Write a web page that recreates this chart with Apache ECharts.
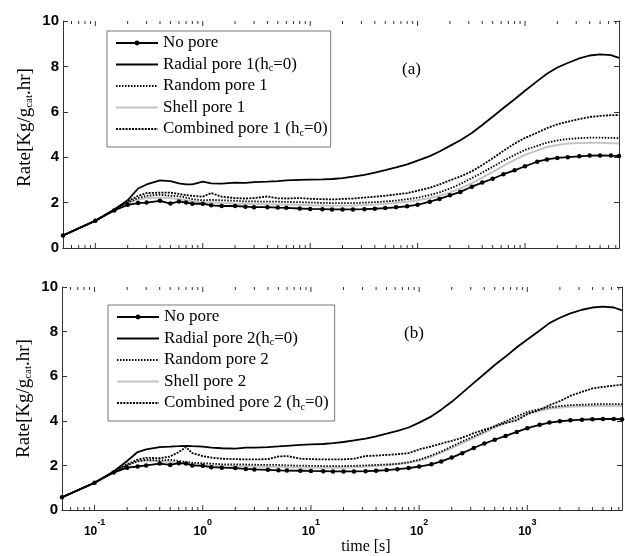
<!DOCTYPE html>
<html>
<head>
<meta charset="utf-8">
<script src="https://cdn.jsdelivr.net/npm/echarts@6/dist/echarts.min.js"></script>
<style>
  html, body { margin: 0; padding: 0; background: #fff; }
  #chart { width: 625px; height: 556px; }
</style>
</head>
<body>
<div id="chart"></div>
<script>
// Sampling times [s] shared by every curve
const times = [
  0.05, 0.1, 0.15, 0.2, 0.25, 0.3, 0.4, 0.5, 0.6, 0.7, 0.8,
  1, 1.2, 1.5, 2, 2.5, 3, 4, 5, 6, 8,
  10, 13, 16, 20, 25, 32, 40, 50, 63, 80,
  100, 130, 160, 200, 250, 320, 400, 500, 630, 800,
  1000, 1300, 1600, 2000, 2500, 3200, 4000, 5000, 6300, 7500
];

// Panel (a): pore structure type 1
const noPoreA = [
  0.55, 1.2, 1.65, 1.9, 1.98, 2.0, 2.08, 1.96, 2.05, 2.0, 1.95,
  1.95, 1.88, 1.85, 1.85, 1.82, 1.8, 1.8, 1.78, 1.77, 1.74,
  1.72, 1.71, 1.7, 1.7, 1.7, 1.71, 1.73, 1.76, 1.79, 1.84,
  1.9, 2.04, 2.16, 2.32, 2.47, 2.7, 2.88, 3.05, 3.25, 3.42,
  3.6, 3.8, 3.9, 3.97, 4.0, 4.04, 4.07, 4.08, 4.07, 4.05
];
const radialA = [
  0.55, 1.2, 1.7, 2.1, 2.62, 2.8, 2.98, 2.95, 2.85, 2.8, 2.8,
  2.92, 2.85, 2.84, 2.88, 2.87, 2.9, 2.92, 2.95, 2.98, 3.0,
  3.01, 3.02, 3.04, 3.08, 3.14, 3.22, 3.32, 3.43, 3.55, 3.68,
  3.85, 4.05, 4.25, 4.5, 4.75, 5.07, 5.42, 5.78, 6.17, 6.55,
  6.93, 7.35, 7.68, 7.95, 8.15, 8.35, 8.48, 8.53, 8.5, 8.38
];
const randomA = [
  0.55, 1.2, 1.68, 2.0, 2.2, 2.3, 2.35, 2.3, 2.28, 2.22, 2.15,
  2.1, 2.12, 2.1, 2.08, 2.05, 2.05, 2.04, 2.04, 2.03, 2.02,
  2.0, 1.99, 1.98, 1.98, 1.98, 2.0, 2.02, 2.05, 2.09, 2.15,
  2.22, 2.33, 2.45, 2.62, 2.82, 3.08, 3.32, 3.58, 3.85, 4.1,
  4.32, 4.5, 4.64, 4.74, 4.8, 4.84, 4.86, 4.86, 4.85, 4.84
];
const shellA = [
  0.55, 1.2, 1.68, 1.98, 2.12, 2.2, 2.22, 2.2, 2.15, 2.1, 2.05,
  2.0, 2.02, 1.98, 1.96, 1.95, 1.94, 1.93, 1.92, 1.92, 1.9,
  1.88, 1.87, 1.86, 1.86, 1.87, 1.89, 1.92, 1.95, 1.99, 2.04,
  2.1, 2.2, 2.3, 2.45, 2.62, 2.86, 3.1, 3.35, 3.62, 3.88,
  4.1, 4.3, 4.45, 4.54, 4.6, 4.63, 4.64, 4.64, 4.62, 4.6
];
const combinedA = [
  0.55, 1.2, 1.7, 2.05, 2.3, 2.42, 2.44, 2.44, 2.38, 2.33, 2.3,
  2.26, 2.42, 2.26, 2.2, 2.18, 2.2, 2.27, 2.19, 2.18, 2.2,
  2.17, 2.15, 2.14, 2.16, 2.18, 2.22, 2.26, 2.3, 2.36, 2.42,
  2.52, 2.65, 2.8, 2.98, 3.15, 3.38, 3.65, 3.95, 4.28, 4.6,
  4.85, 5.08, 5.28, 5.45, 5.56, 5.68, 5.77, 5.82, 5.85, 5.86
];

// Panel (b): pore structure type 2
const noPoreB = [
  0.57, 1.22, 1.68, 1.9, 1.95, 2.0, 2.08, 2.02, 2.1, 2.08, 2.0,
  1.98, 1.92, 1.9, 1.88, 1.84, 1.82, 1.8, 1.78, 1.77, 1.76,
  1.75, 1.74, 1.73, 1.73, 1.73, 1.74, 1.76, 1.79, 1.83, 1.88,
  1.95, 2.05, 2.18, 2.35, 2.55, 2.78, 2.98, 3.15, 3.32, 3.5,
  3.67, 3.82, 3.92, 3.98, 4.02, 4.05, 4.07, 4.08, 4.08, 4.07
];
const radialB = [
  0.57, 1.22, 1.73, 2.2, 2.6, 2.72, 2.82, 2.84, 2.86, 2.88, 2.86,
  2.84, 2.8, 2.77, 2.75, 2.8, 2.8, 2.82, 2.85, 2.88, 2.92,
  2.94, 2.96, 3.0, 3.05, 3.12, 3.2, 3.3, 3.42, 3.55, 3.7,
  3.92, 4.2, 4.5, 4.85, 5.25, 5.7, 6.1, 6.5, 6.88, 7.3,
  7.65, 8.05, 8.38, 8.62, 8.82, 8.98, 9.08, 9.12, 9.08, 8.95
];
const randomB = [
  0.57, 1.22, 1.7, 2.0, 2.18, 2.25, 2.22, 2.25, 2.2, 2.15, 2.12,
  2.1, 2.08, 2.05, 2.05, 2.04, 2.03, 2.02, 2.02, 2.0, 1.99,
  1.98, 1.97, 1.97, 1.97, 1.98, 2.0, 2.02, 2.04, 2.07, 2.14,
  2.25, 2.45, 2.62, 2.85, 3.07, 3.3, 3.52, 3.77, 3.98, 4.2,
  4.4, 4.52, 4.6, 4.66, 4.7, 4.72, 4.74, 4.75, 4.75, 4.74
];
const shellB = [
  0.57, 1.22, 1.7, 2.0, 2.2, 2.22, 2.18, 2.15, 2.1, 2.08, 2.05,
  2.02, 2.0, 1.98, 1.97, 1.96, 1.95, 1.94, 1.93, 1.92, 1.91,
  1.9, 1.89, 1.89, 1.9, 1.92, 1.95, 1.98, 2.01, 2.05, 2.12,
  2.22, 2.4, 2.57, 2.78, 3.0, 3.24, 3.46, 3.7, 3.92, 4.12,
  4.32, 4.45, 4.54, 4.6, 4.63, 4.65, 4.66, 4.66, 4.66, 4.65
];
const combinedB = [
  0.57, 1.22, 1.72, 2.05, 2.26, 2.34, 2.32, 2.4, 2.6, 2.82, 2.55,
  2.42, 2.35, 2.3, 2.28, 2.27, 2.27, 2.28, 2.4, 2.42, 2.3,
  2.28, 2.27, 2.27, 2.27, 2.3, 2.42, 2.44, 2.47, 2.5, 2.55,
  2.72, 2.85, 2.98, 3.1, 3.24, 3.45, 3.6, 3.75, 3.9, 4.02,
  4.3, 4.5, 4.7, 4.88, 5.12, 5.3, 5.45, 5.52, 5.58, 5.62
];

// Legend names
const namesA = ['No pore', 'Radial pore 1(hc=0)', 'Random pore 1', 'Shell pore 1', 'Combined pore 1 (hc=0)'];
const namesB = ['No pore', 'Radial pore 2(hc=0)', 'Random pore 2', 'Shell pore 2', 'Combined pore 2 (hc=0)'];

// Axis ticks
const xMajorTicks = [0.1, 1, 10, 100, 1000];
const xMinorTicks = [
  0.06, 0.07, 0.08, 0.09,
  0.2, 0.3, 0.4, 0.5, 0.6, 0.7, 0.8, 0.9,
  2, 3, 4, 5, 6, 7, 8, 9,
  20, 30, 40, 50, 60, 70, 80, 90,
  200, 300, 400, 500, 600, 700, 800, 900,
  2000, 3000, 4000, 5000, 6000, 7000
];
const xMin = 0.05, xMax = 7500;
const yMin = 0, yMax = 10, yStep = 2;

const SERIF = "'Liberation Serif', 'Times New Roman', serif";
const SANS = "'Liberation Sans', Arial, sans-serif";
const AXIS_COLOR = '#333';

const pairs = arr => times.map((t, i) => [t, arr[i]]);

// Line look of the five curves, in legend order
const styles = [
  { color: '#000', width: 1.8, type: 'solid', marker: true, z: 6 },
  { color: '#000', width: 1.8, type: 'solid', marker: false, z: 5 },
  { color: '#000', width: 1.8, type: [1.5, 1.5], marker: false, z: 4 },
  { color: '#c4c4c4', width: 2, type: 'solid', marker: false, z: 3 },
  { color: '#000', width: 1.8, type: [2, 1.2], marker: false, z: 4 }
];

function curves(names, arrays, axisIdx) {
  return names.map((name, k) => {
    const s = styles[k];
    return {
      type: 'line',
      name,
      xAxisIndex: axisIdx * 2,
      yAxisIndex: axisIdx * 2,
      data: pairs(arrays[k]),
      showSymbol: s.marker,
      symbol: s.marker ? 'circle' : 'none',
      symbolSize: 4.5,
      itemStyle: { color: s.color },
      lineStyle: { color: s.color, width: s.width, type: s.type },
      z: s.z,
      animation: false,
      silent: true
    };
  });
}

// Minor and major x ticks drawn inside the box on the bottom and top edges
function tickSeries(axisIdx) {
  const data = xMajorTicks.map(t => [t, 0, 1]).concat(xMinorTicks.map(t => [t, 0, 0]));
  return {
    type: 'custom',
    xAxisIndex: axisIdx * 2,
    yAxisIndex: axisIdx * 2,
    data,
    silent: true,
    animation: false,
    z: 7,
    renderItem(params, api) {
      const t = api.value(0);
      const len = api.value(2) ? 5 : 3;
      const b = api.coord([t, yMin]);
      const top = api.coord([t, yMax]);
      const st = { stroke: AXIS_COLOR, lineWidth: 1 };
      return {
        type: 'group',
        children: [
          { type: 'line', shape: { x1: b[0], y1: b[1], x2: b[0], y2: b[1] - len }, style: st },
          { type: 'line', shape: { x1: top[0], y1: top[1], x2: top[0], y2: top[1] + len }, style: st }
        ]
      };
    }
  };
}

const grids = [
  { left: 63, top: 21, width: 556, height: 227 },
  { left: 62, top: 287, width: 560, height: 227 }
];

function xAxes(gridIndex, withLabels) {
  const bottom = {
    type: 'log', logBase: 10, gridIndex, position: 'bottom',
    min: xMin, max: xMax,
    axisLine: { lineStyle: { color: AXIS_COLOR, width: 1 } },
    axisTick: { show: false },
    splitLine: { show: false },
    axisLabel: withLabels ? {
      show: true,
      customValues: xMajorTicks,
      margin: 8,
      color: '#000',
      fontFamily: SANS,
      fontWeight: 'bold',
      fontSize: 12,
      formatter: v => '{b|10}{sup|' + Math.round(Math.log10(v)) + '}',
      rich: {
        b: { fontSize: 12, fontWeight: 'bold', fontFamily: SANS, lineHeight: 20, verticalAlign: 'bottom', color: '#000' },
        sup: { fontSize: 9, fontWeight: 'bold', fontFamily: SANS, lineHeight: 8, verticalAlign: 'top', color: '#000' }
      }
    } : { show: false }
  };
  if (withLabels) {
    bottom.name = 'time [s]';
    bottom.nameLocation = 'middle';
    bottom.nameGap = 29;
    bottom.nameMoveOverlap = false;
    bottom.nameTextStyle = { fontFamily: SERIF, fontSize: 16, color: '#000', padding: [0, 0, 0, 48] };
  }
  const top = {
    type: 'log', logBase: 10, gridIndex, position: 'top',
    min: xMin, max: xMax,
    axisLine: { lineStyle: { color: AXIS_COLOR, width: 1 } },
    axisTick: { show: false },
    axisLabel: { show: false },
    splitLine: { show: false }
  };
  return [bottom, top];
}

function yAxes(gridIndex, namePadding) {
  const left = {
    type: 'value', gridIndex, position: 'left',
    min: yMin, max: yMax, interval: yStep,
    axisLine: { show: true, lineStyle: { color: AXIS_COLOR, width: 1 } },
    axisTick: { show: true, inside: true, length: 5, lineStyle: { color: AXIS_COLOR } },
    splitLine: { show: false },
    axisLabel: { color: '#000', fontFamily: SANS, fontWeight: 'bold', fontSize: 15, margin: 4 },
    name: 'Rate[Kg/g{sub|cat}.hr]',
    nameLocation: 'middle',
    nameGap: 28,
    nameMoveOverlap: false,
    nameTextStyle: {
      fontFamily: SERIF, fontSize: 19, color: '#000', lineHeight: 20,
      padding: namePadding,
      rich: { sub: { fontFamily: SERIF, fontSize: 11, lineHeight: 11, verticalAlign: 'bottom', color: '#000' } }
    }
  };
  const right = {
    type: 'value', gridIndex, position: 'right',
    min: yMin, max: yMax, interval: yStep,
    axisLine: { show: true, lineStyle: { color: AXIS_COLOR, width: 1 } },
    axisTick: { show: true, inside: true, length: 5, lineStyle: { color: AXIS_COLOR } },
    axisLabel: { show: false },
    splitLine: { show: false }
  };
  return [left, right];
}

function legend(names, left, top, padRight) {
  return {
    // only the No pore entry carries a marker in its key
    data: names.map((name, k) => styles[k].marker ? { name } : { name, itemStyle: { opacity: 0 } }),
    orient: 'vertical',
    left, top,
    padding: [3, padRight, 9, 8],
    itemGap: 3.5,
    itemWidth: 42,
    itemHeight: 6,
    borderColor: '#777',
    borderWidth: 1,
    backgroundColor: '#fff',
    selectedMode: false,
    textStyle: {
      fontFamily: SERIF, fontSize: 17, color: '#000', lineHeight: 18,
      rich: { sub: { fontFamily: SERIF, fontSize: 10, lineHeight: 10, verticalAlign: 'bottom', color: '#000' } }
    },
    formatter: name => name.replace('(hc=', '(h{sub|c}=')
  };
}

const chart = echarts.init(document.getElementById('chart'), null, { renderer: 'canvas' });
chart.setOption({
  animation: false,
  backgroundColor: '#fff',
  grid: grids,
  xAxis: xAxes(0, false).concat(xAxes(1, true)),
  yAxis: yAxes(0, [0, 0, 0, 14]).concat(yAxes(1, [0, 0, 0, 0])),
  legend: [legend(namesA, 107, 31, 3), legend(namesB, 108, 305, 6)],
  graphic: [
    { type: 'text', left: 402, top: 61, style: { text: '(a)', font: "17px 'Liberation Serif'", fill: '#000' } },
    { type: 'text', left: 404, top: 325, style: { text: '(b)', font: "17px 'Liberation Serif'", fill: '#000' } }
  ],
  series: [
    ...curves(namesA, [noPoreA, radialA, randomA, shellA, combinedA], 0),
    ...curves(namesB, [noPoreB, radialB, randomB, shellB, combinedB], 1),
    tickSeries(0),
    tickSeries(1)
  ]
});
</script>
</body>
</html>
